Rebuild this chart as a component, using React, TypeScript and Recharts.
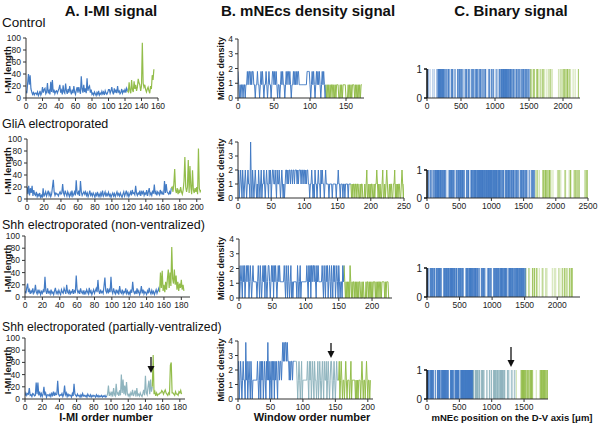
import { Bar, BarChart, Line, LineChart, XAxis, YAxis } from "recharts";

const FONT = '"Liberation Sans", Arial, Helvetica, sans-serif';
const BLUE = "#437bc4";
const GREEN = "#93bd4b";
const TEAL = "#8fb4be";
const AXIS = "#333";

// I-MI lengths (µm), split by colour segment
const controlImiBlue = [
  12, 8, 25, 40, 22, 38, 15, 10, 6, 9, 5, 8, 8, 6, 10, 4, 7, 12, 5, 8,
  18, 9, 14, 16, 7, 10, 25, 8, 12, 6, 27, 10, 30, 9, 14, 7, 11, 12, 8, 12,
  16, 22, 9, 13, 6, 21, 10, 8, 24, 12, 7, 15, 9, 20, 11, 6, 14, 8, 20, 10,
  6, 13, 18, 9, 18, 12, 7, 36, 15, 9, 22, 10, 16, 8, 33, 12, 18, 20, 9, 14,
  6, 8, 5, 10, 7, 4, 9, 6, 12, 5, 8, 6, 11, 7, 10, 5, 12, 8, 6, 9,
  14, 14, 8, 12, 18, 10, 6, 16, 9, 14, 8, 20, 10, 12, 7, 9, 15, 8, 12, 10,
  14, 9, 16, 12,
];
const controlImiGreen = [
  10, 26, 12, 8, 30, 14, 10, 28, 15, 22, 12, 18, 32, 25, 22, 12, 20, 92, 25, 18,
  22, 14, 10, 15, 18, 12, 8, 20, 15, 38, 30, 48,
];
const gliaImiBlue = [
  20, 8, 22, 6, 18, 10, 22, 5, 15, 8, 6, 12, 4, 8, 5, 10, 3, 6, 2, 18,
  4, 8, 12, 5, 9, 14, 6, 10, 4, 8, 20, 32, 12, 6, 10, 8, 8, 5, 9, 12,
  8, 10, 25, 10, 6, 14, 9, 5, 12, 8, 4, 10, 6, 14, 5, 8, 12, 6, 31, 10,
  8, 14, 5, 30, 12, 6, 9, 12, 8, 12, 6, 10, 4, 8, 14, 6, 9, 5, 10, 7,
  3, 9, 6, 12, 5, 8, 4, 10, 6, 14, 5, 8, 12, 4, 9, 6, 11, 5, 8, 3,
  7, 10, 5, 9, 4, 8, 12, 6, 9, 5, 10, 6, 3, 8, 12, 5, 9, 14, 6, 10,
  4, 8, 12, 6, 15, 9, 10, 7, 22, 10, 6, 10, 8, 14, 5, 12, 9, 14, 6, 10,
  8, 15, 5, 12, 18, 7, 10, 6, 14, 9, 24, 8, 12, 6, 12, 10, 7, 15, 9, 12,
  8, 8, 30, 10, 25, 12, 10, 8, 12, 8, 18,
];
const gliaImiGreen = [
  20, 12, 25, 50, 15, 10, 18, 8, 14, 10, 20, 12, 8, 15, 30, 70, 20, 12, 20, 65,
  10, 55, 20, 8, 48, 15, 10, 18, 12, 20, 8, 84, 18, 12, 15,
];
const shhImiBlue = [
  10, 6, 15, 22, 8, 12, 5, 10, 7, 14, 6, 9, 20, 8, 5, 12, 7, 10, 4, 9,
  6, 11, 8, 33, 10, 5, 14, 7, 9, 5, 12, 6, 8, 4, 10, 15, 6, 9, 5, 11,
  7, 4, 12, 8, 6, 14, 10, 5, 20, 8, 6, 12, 4, 9, 7, 13, 5, 10, 8, 35,
  12, 7, 10, 5, 14, 8, 6, 11, 4, 9, 6, 12, 8, 5, 15, 7, 10, 4, 8, 12,
  6, 10, 14, 8, 28, 10, 5, 12, 7, 9, 6, 18, 32, 10, 7, 14, 6, 12, 8, 33,
  10, 6, 14, 8, 5, 12, 7, 10, 4, 18, 8, 6, 12, 5, 9, 7, 14, 6, 10, 5,
  8, 4, 12, 7, 25, 10, 6, 9, 5, 14, 7, 10, 4, 8, 18, 6, 12, 5, 9, 7,
  4, 10, 6, 15, 8, 5, 11, 6, 9, 4, 8, 12, 6, 10, 14, 8,
];
const shhImiGreen = [
  40, 15, 43, 10, 20, 8, 25, 12, 30, 45, 15, 40, 18, 82, 30, 22, 45, 20, 35, 12,
  25, 10, 22, 15, 28, 12, 20, 10,
];
const partialImiBlue = [
  5, 10, 6, 9, 8, 18, 6, 7, 4, 9, 8, 5, 6, 27, 8, 27, 6, 12, 5, 9,
  4, 8, 20, 6, 10, 3, 7, 7, 5, 8, 4, 9, 6, 12, 5, 10, 7, 8, 30, 8,
  5, 7, 6, 9, 4, 8, 22, 7, 10, 4, 8, 5, 7, 6, 3, 9, 5, 25, 8, 6,
  4, 8, 5, 6, 3, 7, 4, 9, 5, 6, 4, 6, 3, 8, 5, 4, 7, 3, 6, 4,
  6, 5, 3, 7, 4, 6, 3, 5, 4, 6, 3, 5, 4, 6, 3, 5,
];
const partialImiTeal = [
  8, 22, 5, 10, 6, 12, 4, 18, 7, 5, 25, 8, 10, 5, 14, 6, 40, 10, 32, 8,
  22, 6, 28, 9, 5, 8, 4, 10, 6, 15, 5, 9, 14, 4, 18, 6, 8, 5, 10, 6,
  4, 9, 15, 6, 38, 10, 7, 20, 30, 8, 32, 12, 20,
];
const partialImiGreen = [
  72, 8, 12, 5, 10, 6, 8, 8, 10, 10, 14, 12, 8, 12, 15, 10, 8, 6, 10, 8,
  55, 60, 10, 10, 8, 6, 12, 8, 8, 6, 12, 10, 14, 8,
];

// mitotic counts per window (multiplied by the level step of each panel)
const controlDensityStep = 0.9;
const controlDensityBlue = [
  2, 1, 0, 1, 0, 1, 1, 0, 1, 1, 0, 1, 1, 2, 1, 2, 2, 1, 2, 1,
  2, 2, 1, 1, 0, 1, 1, 2, 1, 1, 0, 1, 2, 1, 2, 1, 0, 1, 1, 2,
  1, 0, 1, 2, 1, 1, 0, 1, 2, 2, 1, 2, 1, 2, 1, 0, 1, 1, 0, 1,
  2, 1, 2, 1, 1, 0, 1, 2, 1, 2, 2, 1, 2, 1, 0, 1, 1, 2, 1, 2,
  1, 2, 1, 2, 2, 1, 1, 1, 1, 1, 1, 1, 1, 1, 1, 1, 2, 2, 2, 2,
  1, 0, 1, 2, 1, 2, 1, 0, 1, 2, 1, 2, 1, 2, 1, 0, 1, 2, 1, 2,
  1, 0, 1,
];
const controlDensityGreen = [
  0, 1, 0, 1, 0, 1, 0, 1, 1, 0, 1, 0, 1, 0, 1, 1, 1, 0, 0, 1,
  0, 1, 0, 1, 1, 1, 1, 0, 0, 0, 1, 0, 1, 0, 1, 0, 1, 1, 1, 0,
  1, 0, 1, 0, 1, 0, 1, 0, 1, 1,
];
const gliaDensityStep = 1;
const gliaDensityBlue = [
  1, 2, 0, 1, 2, 1, 0, 2, 1, 0, 1, 2, 1, 0, 1, 2, 1, 1, 0, 4,
  1, 0, 2, 1, 0, 1, 2, 1, 0, 1, 0, 2, 1, 0, 1, 2, 0, 1, 1, 2,
  1, 0, 1, 2, 1, 1, 0, 2, 1, 2, 0, 1, 2, 2, 1, 1, 2, 1, 0, 2,
  1, 1, 2, 1, 0, 1, 2, 1, 0, 1, 0, 1, 2, 2, 1, 2, 1, 2, 2, 1,
  2, 2, 1, 2, 2, 1, 2, 2, 2, 1, 2, 1, 2, 2, 2, 1, 2, 2, 1, 2,
  2, 1, 2, 1, 2, 2, 1, 1, 0, 1, 1, 2, 1, 0, 1, 0, 2, 1, 1, 0,
  1, 2, 1, 1, 0, 2, 1, 2, 1, 1, 0, 1, 2, 1, 1, 1, 1, 0, 1, 1,
  1, 1, 0, 1, 1, 1, 1, 1, 0, 1, 1, 2, 1, 1, 0, 1, 1, 1, 0, 1,
  1, 0, 1, 1, 1, 1, 0, 1, 1, 1, 1,
];
const gliaDensityGreen = [
  0, 1, 0, 1, 1, 0, 1, 1, 0, 1, 1, 0, 0, 1, 0, 1, 1, 0, 0, 0,
  1, 0, 1, 2, 0, 0, 1, 0, 1, 0, 1, 1, 0, 0, 1, 0, 1, 1, 2, 1,
  0, 1, 0, 1, 0, 0, 1, 2, 0, 0, 1, 0, 1, 2, 1, 0, 0, 1, 0, 1,
  1, 0, 0, 1, 1, 2, 0, 1, 0, 1, 0, 1, 1, 0, 0, 1, 2, 1, 0, 1,
];
const shhDensityStep = 1.1;
const shhDensityBlue = [
  2, 0, 1, 2, 1, 0, 2, 1, 2, 0, 1, 2, 1, 2, 2, 0, 1, 2, 1, 0,
  1, 2, 1, 1, 1, 1, 1, 0, 1, 2, 1, 0, 2, 1, 0, 1, 2, 1, 2, 0,
  2, 1, 0, 1, 2, 2, 1, 0, 1, 2, 1, 2, 0, 2, 1, 2, 1, 0, 1, 2,
  1, 2, 1, 1, 1, 1, 1, 1, 2, 1, 0, 2, 1, 0, 2, 1, 0, 1, 2, 0,
  1, 0, 1, 1, 1, 1, 1, 0, 2, 1, 0, 1, 2, 0, 1, 1, 1, 1, 1, 1,
  1, 1, 2, 1, 0, 2, 1, 2, 0, 2, 1, 2, 2, 1, 2, 1, 0, 2, 1, 2,
  1, 1, 1, 1, 1, 2, 1, 0, 2, 1, 0, 2, 1, 2, 0, 1, 2, 1, 0, 2,
  1, 0, 2, 1, 2, 0, 1, 2, 1, 0, 2, 1, 0, 1, 1, 0, 2, 1, 2,
];
const shhDensityGreen = [
  1, 0, 1, 0, 1, 0, 1, 0, 2, 1, 0, 1, 0, 1, 1, 0, 1, 0, 1, 0,
  1, 0, 1, 1, 0, 0, 1, 0, 1, 0, 0, 0, 1, 0, 1, 1, 0, 1, 0, 1,
  0, 1, 0, 1, 1, 1, 0, 1, 0, 1, 0, 1, 1, 0, 1, 0, 1, 1, 1, 1,
  0, 1, 0, 1, 1, 1, 0, 0,
];
const partialDensityStep = 1.3;
const partialDensityBlue = [
  1, 2, 0, 1, 2, 1, 0, 1, 2, 1, 1, 0, 3, 1, 2, 0, 1, 2, 1, 0,
  2, 1, 0, 1, 1, 1, 1, 1, 1, 1, 2, 1, 0, 1, 2, 0, 2, 1, 2, 0,
  1, 2, 1, 0, 2, 1, 3, 1, 2, 0, 1, 2, 0, 2, 1, 2, 0, 2, 1, 2,
  1, 0, 2, 2, 1, 2, 2, 1, 2, 3, 2, 3, 2, 3, 3, 2, 3, 2, 2, 1,
  2, 1, 2, 2, 1, 2, 2, 2,
];
const partialDensityTeal = [
  2, 2, 2, 1, 0, 1, 2, 1, 0, 1, 2, 0, 1, 1, 1, 1, 1, 1, 1, 2,
  1, 0, 2, 1, 2, 0, 1, 2, 1, 0, 2, 1, 1, 0, 1, 2, 0, 1, 2, 1,
  0, 1, 2, 1, 0, 2, 1, 1, 2, 0, 1, 2, 1, 0, 1, 2, 2, 1, 0, 1,
  2, 1, 0, 1, 2, 1, 1,
];
const partialDensityGreen = [
  1, 2, 0, 1, 2, 1, 0, 1, 1, 0, 1, 2, 1, 0, 1, 1, 1, 0, 1, 2,
  0, 1, 1, 1, 1, 1, 0, 1, 0, 1, 0, 1, 1, 1, 0, 1, 2, 1, 0, 1,
  1, 0, 1, 2, 1, 0, 1, 1, 0, 1,
];

const imiYTicks = [0, 20, 40, 60, 80, 100];
const densityYTicks = [0, 1, 2, 3, 4];

type Box = { left: number; top: number; right: number; bottom: number };

const tickStyle = { fontSize: 8.5, fill: "#222", fontFamily: FONT };

type SignalProps = {
  box: Box;
  segments: number[][];
  colors: string[];
  step?: number;
  xMax: number;
  xTicks: number[];
  yMax: number;
  yTicks: number[];
  strokeWidth?: number;
};

function SignalChart({ box, segments, colors, step = 1, xMax, xTicks, yMax, yTicks, strokeWidth = 1 }: SignalProps) {
  const all = segments.flat();
  const rows: Record<string, number>[] = all.map((_, i) => ({ x: i }));
  let start = 0;
  segments.forEach((seg, k) => {
    // each segment also takes the previous point so the line stays joined
    const from = k === 0 ? 0 : start - 1;
    for (let i = from; i < start + seg.length; i++) rows[i]["s" + k] = all[i] * step;
    start += seg.length;
  });
  const w = box.right - box.left;
  const h = box.bottom - box.top;
  return (
    <div style={{ position: "absolute", left: box.left - 30, top: box.top - 6 }}>
      <LineChart width={w + 40} height={h + 24} data={rows} margin={{ top: 6, right: 10, left: 0, bottom: 0 }}>
        <XAxis type="number" dataKey="x" domain={[0, xMax]} ticks={xTicks} interval={0} allowDataOverflow height={18} tickSize={3} tick={tickStyle} stroke={AXIS} />
        <YAxis type="number" domain={[0, yMax]} ticks={yTicks} interval={0} width={30} tickSize={3} tick={tickStyle} stroke={AXIS} />
        {segments.map((_, k) => (
          <Line key={k} type="linear" dataKey={"s" + k} stroke={colors[k]} strokeWidth={strokeWidth} dot={false} isAnimationActive={false} />
        ))}
      </LineChart>
    </div>
  );
}

type BinaryProps = { box: Box; segments: number[][]; colors: string[]; xMax: number; xTicks: number[] };

type Mark = { pos: number; v: number; color: string; op: number };

// thin vertical stroke centred on the bar's x position
function Tick(props: any) {
  const { x, y, width, height, payload } = props;
  if (height == null || height <= 0) return null;
  return <rect x={x + width / 2 - 0.55} y={y} width={1.1} height={height} fill={payload.color} fillOpacity={payload.op} />;
}

function BinaryChart({ box, segments, colors, xMax, xTicks }: BinaryProps) {
  // mNEc positions are the running sum of the I-MI lengths
  const rows: Mark[] = [];
  let pos = 0;
  segments.forEach((seg, k) => {
    seg.forEach((len) => {
      rows.push({ pos, v: 1, color: colors[k], op: Math.max(0.4, Math.min(1, 1.15 - len / 30)) });
      pos += len;
    });
  });
  rows.push({ pos, v: 1, color: colors[colors.length - 1], op: 0.8 });
  const w = box.right - box.left;
  const h = box.bottom - box.top;
  return (
    <div style={{ position: "absolute", left: box.left - 30, top: box.top - 6 }}>
      <BarChart width={w + 40} height={h + 24} data={rows} margin={{ top: 6, right: 10, left: 0, bottom: 0 }}>
        <XAxis type="number" dataKey="pos" domain={[0, xMax]} ticks={xTicks} interval={0} allowDataOverflow height={18} tickSize={3} tick={tickStyle} stroke={AXIS} />
        <YAxis type="number" domain={[0, 1]} ticks={[0, 1]} interval={0} width={30} tickSize={3} tick={{ ...tickStyle, fontSize: 10 }} stroke="#111" strokeWidth={1.5} />
        <Bar dataKey="v" barSize={2} shape={Tick} isAnimationActive={false} />
      </BarChart>
    </div>
  );
}

function Arrow({ x, y1, y2 }: { x: number; y1: number; y2: number }) {
  return (
    <g>
      <line x1={x} y1={y1} x2={x} y2={y2 - 5} stroke="#111" strokeWidth={1.3} />
      <polygon points={`${x - 3.5},${y2 - 7} ${x + 3.5},${y2 - 7} ${x},${y2}`} fill="#111" />
    </g>
  );
}

const rowLabels = [
  { text: "Control", y: 27, size: 13.5 },
  { text: "GliA electroporated", y: 128, size: 12.5 },
  { text: "Shh electroporated (non-ventralized)", y: 229, size: 12.5 },
  { text: "Shh electroporated (partially-ventralized)", y: 331, size: 12.2 },
];

const aBoxes: Box[] = [
  { left: 26, top: 38, right: 158, bottom: 98 },
  { left: 27, top: 139, right: 201, bottom: 199 },
  { left: 25, top: 236, right: 190, bottom: 297 },
  { left: 25, top: 338, right: 185, bottom: 399 },
];
const bBoxes: Box[] = [
  { left: 238, top: 39, right: 364, bottom: 98 },
  { left: 238, top: 142, right: 404, bottom: 198 },
  { left: 239, top: 239, right: 392, bottom: 298 },
  { left: 238, top: 341, right: 373, bottom: 399 },
];
const cBoxes: Box[] = [
  { left: 427, top: 69, right: 580, bottom: 98 },
  { left: 427, top: 170, right: 588, bottom: 198 },
  { left: 427, top: 268, right: 580, bottom: 297 },
  { left: 427, top: 370, right: 548, bottom: 399 },
];

export default function App() {
  return (
    <div style={{ position: "absolute", left: 0, top: 0, width: 600, height: 428, background: "#fff", overflow: "hidden", fontFamily: FONT }}>
      <SignalChart box={aBoxes[0]} segments={[controlImiBlue, controlImiGreen]} colors={[BLUE, GREEN]} xMax={160} xTicks={[0, 20, 40, 60, 80, 100, 120, 140, 160]} yMax={100} yTicks={imiYTicks} strokeWidth={1.2} />
      <SignalChart box={aBoxes[1]} segments={[gliaImiBlue, gliaImiGreen]} colors={[BLUE, GREEN]} xMax={205} xTicks={[0, 20, 40, 60, 80, 100, 120, 140, 160, 180, 200]} yMax={100} yTicks={imiYTicks} strokeWidth={1.2} />
      <SignalChart box={aBoxes[2]} segments={[shhImiBlue, shhImiGreen]} colors={[BLUE, GREEN]} xMax={190} xTicks={[0, 20, 40, 60, 80, 100, 120, 140, 160, 180]} yMax={100} yTicks={imiYTicks} strokeWidth={1.2} />
      <SignalChart box={aBoxes[3]} segments={[partialImiBlue, partialImiTeal, partialImiGreen]} colors={[BLUE, TEAL, GREEN]} xMax={186} xTicks={[0, 20, 40, 60, 80, 100, 120, 140, 160, 180]} yMax={100} yTicks={imiYTicks} strokeWidth={1.2} />

      <SignalChart box={bBoxes[0]} segments={[controlDensityBlue, controlDensityGreen]} colors={[BLUE, GREEN]} step={controlDensityStep} xMax={175} xTicks={[0, 50, 100, 150]} yMax={4} yTicks={densityYTicks} />
      <SignalChart box={bBoxes[1]} segments={[gliaDensityBlue, gliaDensityGreen]} colors={[BLUE, GREEN]} step={gliaDensityStep} xMax={250} xTicks={[0, 50, 100, 150, 200, 250]} yMax={4} yTicks={densityYTicks} />
      <SignalChart box={bBoxes[2]} segments={[shhDensityBlue, shhDensityGreen]} colors={[BLUE, GREEN]} step={shhDensityStep} xMax={230} xTicks={[0, 50, 100, 150, 200]} yMax={4} yTicks={densityYTicks} />
      <SignalChart box={bBoxes[3]} segments={[partialDensityBlue, partialDensityTeal, partialDensityGreen]} colors={[BLUE, TEAL, GREEN]} step={partialDensityStep} xMax={208} xTicks={[0, 50, 100, 150, 200]} yMax={4} yTicks={densityYTicks} />

      <BinaryChart box={cBoxes[0]} segments={[controlImiBlue, controlImiGreen]} colors={[BLUE, GREEN]} xMax={2250} xTicks={[0, 500, 1000, 1500, 2000]} />
      <BinaryChart box={cBoxes[1]} segments={[gliaImiBlue, gliaImiGreen]} colors={[BLUE, GREEN]} xMax={2500} xTicks={[0, 500, 1000, 1500, 2000, 2500]} />
      <BinaryChart box={cBoxes[2]} segments={[shhImiBlue, shhImiGreen]} colors={[BLUE, GREEN]} xMax={2350} xTicks={[0, 500, 1000, 1500, 2000]} />
      <BinaryChart box={cBoxes[3]} segments={[partialImiBlue, partialImiTeal, partialImiGreen]} colors={[BLUE, TEAL, GREEN]} xMax={1870} xTicks={[0, 500, 1000, 1500]} />

      <svg width={600} height={428} style={{ position: "absolute", left: 0, top: 0, pointerEvents: "none" }} fontFamily={FONT}>
        <text x={111} y={16} textAnchor="middle" fontSize={15} fontWeight="bold" fill="#111">A. I-MI signal</text>
        <text x={308} y={16} textAnchor="middle" fontSize={15} fontWeight="bold" fill="#111">B. mNEcs density signal</text>
        <text x={511} y={16} textAnchor="middle" fontSize={15} fontWeight="bold" fill="#111">C. Binary signal</text>
        {rowLabels.map((r) => (
          <text key={r.text} x={2} y={r.y} fontSize={r.size} fill="#111">{r.text}</text>
        ))}
        {aBoxes.map((b, i) => (
          <text key={"ya" + i} transform={`translate(11, ${(b.top + b.bottom) / 2 + 2}) rotate(-90)`} textAnchor="middle" fontSize={9.5} fontWeight="bold" fill="#111">I-MI length</text>
        ))}
        {bBoxes.map((b, i) => (
          <text key={"yb" + i} transform={`translate(224, ${(b.top + b.bottom) / 2}) rotate(-90)`} textAnchor="middle" fontSize={9} fontWeight="bold" fill="#111">Mitotic density</text>
        ))}
        <text x={106} y={421} textAnchor="middle" fontSize={11} fontWeight="bold" fill="#111">I-MI order number</text>
        <text x={312} y={421} textAnchor="middle" fontSize={11} fontWeight="bold" fill="#111">Window order number</text>
        <text x={512} y={421} textAnchor="middle" fontSize={9.5} fontWeight="bold" fill="#111">mNEc position on the D-V axis [μm]</text>
        <Arrow x={151} y1={357} y2={373} />
        <Arrow x={331} y1={343} y2={358} />
        <Arrow x={511} y1={347} y2={367} />
      </svg>
    </div>
  );
}
